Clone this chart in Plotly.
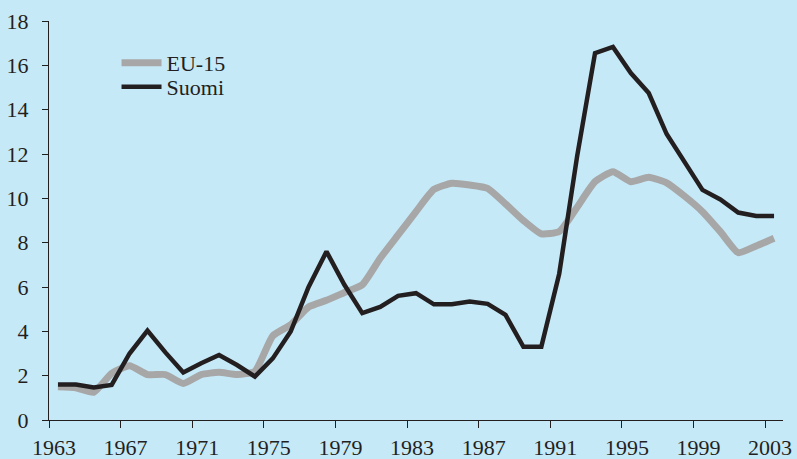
import plotly.graph_objects as go

years = list(range(1963, 2004))
eu15 = [1.5, 1.45, 1.25, 2.1, 2.45, 2.05, 2.05, 1.65, 2.05, 2.15,
        2.05, 2.2, 3.8, 4.3, 5.1, 5.4, 5.75, 6.1, 7.3, 8.35,
        9.4, 10.4, 10.68, 10.6, 10.45, 9.75, 9.0, 8.4, 8.5, 9.6,
        10.75, 11.2, 10.75, 10.95, 10.7, 10.1, 9.4, 8.5, 7.55, 7.85, 8.2]
suomi = [1.6, 1.6, 1.47, 1.58, 3.0, 4.03, 3.05, 2.14, 2.56, 2.93,
         2.48, 1.96, 2.78, 3.99, 6.0, 7.6, 6.1, 4.82, 5.1, 5.6,
         5.72, 5.22, 5.22, 5.34, 5.24, 4.74, 3.3, 3.3, 6.6, 11.9,
         16.55, 16.83, 15.65, 14.75, 12.9, 11.6, 10.38, 9.95, 9.36, 9.2, 9.2]
tick_years = list(range(1963, 2004, 4))
y_ticks = list(range(0, 19, 2))

# annual values plotted at mid-year
x_mid = [y + 0.5 for y in years]

font_family = "Liberation Serif, DejaVu Serif, serif"
bg = "#C6E9F8"

fig = go.Figure()
fig.add_trace(go.Scatter(x=x_mid, y=eu15, mode="lines", name="EU-15", legend="legend",
                         line=dict(color="#A7A7A7", width=7, shape="spline", smoothing=0.5)))
fig.add_trace(go.Scatter(x=x_mid, y=suomi, mode="lines", name="Suomi", legend="legend2",
                         line=dict(color="#231F20", width=4.5)))

leg_common = dict(xanchor="left", yanchor="middle", bgcolor="rgba(0,0,0,0)",
                  font=dict(size=22, family=font_family, color="#231F20"), itemwidth=40)
fig.update_layout(
    width=797, height=459,
    paper_bgcolor=bg, plot_bgcolor=bg,
    margin=dict(l=49, r=14, t=21, b=39),
    font=dict(family=font_family, size=22, color="#231F20"),
    showlegend=True,
    legend=dict(x=0.092, y=0.895, **leg_common),
    legend2=dict(x=0.092, y=0.835, **leg_common),
)
fig.update_xaxes(range=[1963, 2004], tickvals=tick_years, ticktext=[str(t) for t in tick_years],
                 automargin=False, ticklabelshift=5,
                 showgrid=False, zeroline=False, showline=True, linecolor="#231F20", linewidth=1.3,
                 ticks="outside", ticklen=7, tickcolor="#231F20", tickwidth=1.3)
fig.update_yaxes(range=[0, 18], tickvals=y_ticks, automargin=False, ticklabelstandoff=9,
                 showgrid=False, zeroline=False, showline=True, linecolor="#231F20", linewidth=1.3,
                 ticks="outside", ticklen=6, tickcolor="#231F20", tickwidth=1.3)

fig.write_html(
    "out.html",
    config={"displayModeBar": False},
    post_script="document.body.style.margin='0';document.body.style.overflow='hidden';"
                "document.body.style.background='" + bg + "';",
)
